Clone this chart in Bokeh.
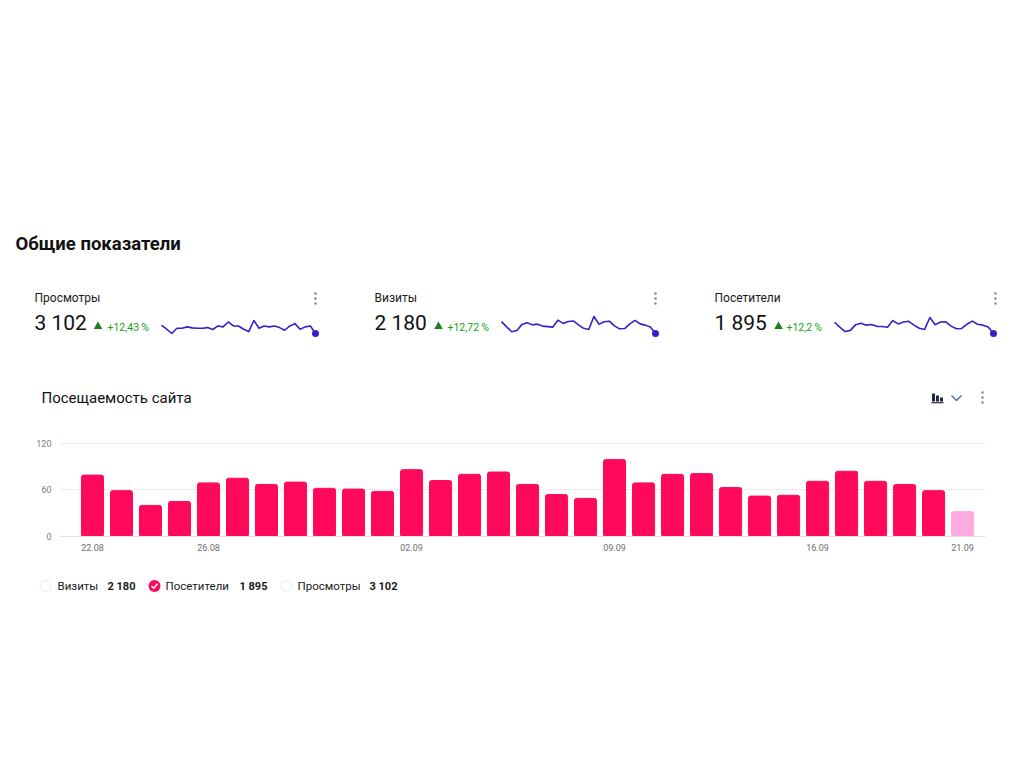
from bokeh.plotting import figure
from bokeh.layouts import column
from bokeh.models import Range1d, FixedTicker, ColumnDataSource
from bokeh.core.properties import value
from bokeh.embed import file_html
from bokeh.resources import INLINE

# ---- data -------------------------------------------------------------
dates = ["22.08", "23.08", "24.08", "25.08", "26.08", "27.08", "28.08", "29.08",
         "30.08", "31.08", "01.09", "02.09", "03.09", "04.09", "05.09", "06.09",
         "07.09", "08.09", "09.09", "10.09", "11.09", "12.09", "13.09", "14.09",
         "15.09", "16.09", "17.09", "18.09", "19.09", "20.09", "21.09"]

visitors = [79, 59, 40, 45, 69, 75, 67, 70, 62, 61, 58, 86, 72, 80, 83, 67,
            54, 49, 99, 69, 80, 81, 63, 52, 53, 71, 84, 71, 67, 59, 32]

visits = [84, 63, 43, 48, 73, 80, 71, 74, 66, 64, 62, 90, 77, 85, 87, 71,
          57, 52, 105, 73, 84, 86, 67, 55, 56, 75, 89, 75, 70, 62, 36]

views = [115, 88, 59, 95, 95, 104, 97, 95, 95, 99, 86, 110, 104, 137, 110, 110,
         88, 72, 147, 95, 110, 104, 110, 99, 81, 110, 126, 88, 104, 110, 59]

metric_names = ["Просмотры", "Визиты", "Посетители"]
metric_totals = [3102, 2180, 1895]
metric_change = [12.43, 12.72, 12.2]

tick_days = ["22.08", "26.08", "02.09", "09.09", "16.09", "21.09"]
y_ticks = [0, 60, 120]

legend_names = ["Визиты", "Посетители", "Просмотры"]
legend_totals = [2180, 1895, 3102]

# ---- styling ----------------------------------------------------------
FONT = "Roboto"
W = 1024
TOP_H, CH_H = 420, 140
LEG_H = 768 - TOP_H - CH_H
BAR_COLOR = "#ff0a5a"
BAR_TODAY = "#fcaae0"
SPARK = "#3a1fc9"
GREEN = "#14a014"
TEXT = "#1a1a1a"


def fmt_int(n):
    return f"{n:,}".replace(",", " ")


def fmt_pct(c):
    return "+" + f"{c:g}".replace(".", ",") + "\u2009%"


def put_text(fig, x, y, s, size, color=TEXT, style="normal", align="left"):
    fig.text(x=[x], y=[y], text=[s], text_font=value(FONT),
             text_font_size=f"{size}px", text_font_style=style,
             text_color=color, text_align=align, text_baseline="middle")


def blank(height):
    f = figure(width=W, height=height, x_range=Range1d(0, W),
               y_range=Range1d(height, 0), output_backend="svg",
               toolbar_location=None, min_border=0, outline_line_color=None,
               x_axis_location=None, y_axis_location=None, frame_align=False)
    f.grid.visible = False
    return f


def menu_dots(fig, x, y):
    fig.scatter(x=[x, x, x], y=[y - 5, y, y + 5], size=2.6,
                fill_color="#8a8a8a", line_color=None)


# ---- header with metric cards ----------------------------------------
top = blank(TOP_H)
put_text(top, 15, 243, "Общие показатели", 18.5, style="bold", color="#111111")

card_x = [34, 374, 714]
tri_x = [97.5, 438, 778]
pct_x = [107, 447, 786]
spark_left = [161, 501, 834]
spark_right = [315, 655, 993]
spark_top = [320, 316, 317]
spark_bottom = 333
menu_x = [315, 655, 995]
series_by_card = [views, visits, visitors]

for k in range(3):
    cx = card_x[k]
    put_text(top, cx, 297, metric_names[k], 12)
    put_text(top, cx, 322.5, fmt_int(metric_totals[k]), 21, color="#111111")
    top.scatter(x=[tri_x[k]], y=[326], marker="triangle", size=8.5,
                fill_color="#17801a", line_color=None)
    put_text(top, pct_x[k], 326.5, fmt_pct(metric_change[k]), 10.5, color=GREEN)
    menu_dots(top, menu_x[k], 298)

    s = series_by_card[k]
    n = len(s)
    ux = (n - 1) / (spark_right[k] - spark_left[k])
    lo, hi = min(s), max(s)
    uy = (hi - lo) / (spark_bottom - spark_top[k])
    top.extra_x_ranges[f"sx{k}"] = Range1d(-spark_left[k] * ux,
                                           (n - 1) + (W - spark_right[k]) * ux)
    top.extra_y_ranges[f"sy{k}"] = Range1d(lo - (TOP_H - spark_bottom) * uy,
                                           hi + spark_top[k] * uy)
    top.line(x=list(range(n)), y=s, x_range_name=f"sx{k}",
             y_range_name=f"sy{k}", line_color=SPARK, line_width=1.6,
             line_join="round")
    top.scatter(x=[n - 1], y=[s[-1]], x_range_name=f"sx{k}",
                y_range_name=f"sy{k}", size=7, fill_color=SPARK,
                line_color=None)

# chart card title and its controls
put_text(top, 41, 397, "Посещаемость сайта", 15, color="#111111")
top.quad(left=[931.5, 935.5, 939.5], right=[934.5, 938.5, 942.5],
         top=[393, 395, 397], bottom=[401, 401, 401], fill_color="#232838",
         line_color=None)
top.quad(left=[931], right=[943], top=[401.6], bottom=[402.8],
         fill_color="#232838", line_color=None)
top.line(x=[951, 956, 961], y=[395, 400, 395], line_color="#4a6494",
         line_width=1.3)
menu_dots(top, 982, 397)

# ---- bar chart ---------------------------------------------------------
idx = list(range(len(dates)))
colors = [BAR_COLOR] * (len(dates) - 1) + [BAR_TODAY]
src = ColumnDataSource(dict(x=idx, top=visitors, color=colors))

bars = figure(width=W, height=CH_H, x_range=Range1d(-1.103, 30.79),
              y_range=Range1d(0, 130), output_backend="svg",
              toolbar_location=None, min_border_left=60, min_border_right=39,
              min_border_top=15, min_border_bottom=24, outline_line_color=None,
              frame_align=False)
bars.vbar(x="x", top="top", width=0.76, source=src, fill_color="color",
          line_color="color", border_radius=2)

bars.xgrid.visible = False
bars.ygrid.ticker = FixedTicker(ticks=y_ticks[1:])
bars.ygrid.grid_line_color = "#ececec"

xa = bars.xaxis[0]
xa.ticker = FixedTicker(ticks=[dates.index(d) for d in tick_days])
xa.major_label_overrides = {dates.index(d): d for d in tick_days}
xa.axis_line_color = "#e2e2e2"
xa.major_tick_out = 0
xa.major_tick_in = 0
xa.minor_tick_line_color = None
xa.major_label_standoff = 7
xa.major_label_text_font = FONT
xa.major_label_text_font_size = "9px"
xa.major_label_text_color = "#6e6e6e"

ya = bars.yaxis[0]
ya.ticker = FixedTicker(ticks=y_ticks)
ya.axis_line_color = None
ya.major_tick_line_color = None
ya.minor_tick_line_color = None
ya.major_tick_out = 0
ya.major_tick_in = 0
ya.major_label_standoff = 9
ya.major_label_text_font = FONT
ya.major_label_text_font_size = "9px"
ya.major_label_text_color = "#7a7a7a"

# ---- legend row ----------------------------------------------------------
leg = blank(LEG_H)
ly = 25.5
mark_x = [45, 154, 286]
name_x = [57, 165, 297]
total_x = [107, 239, 369]
for k in range(3):
    if legend_names[k] == "Посетители":
        leg.scatter(x=[mark_x[k]], y=[ly], size=12, fill_color=BAR_COLOR,
                    line_color=None)
        leg.line(x=[mark_x[k] - 3, mark_x[k] - 0.8, mark_x[k] + 3],
                 y=[ly, ly + 2.2, ly - 2.2], line_color="white", line_width=1.4)
    else:
        leg.scatter(x=[mark_x[k]], y=[ly], size=11, fill_color="white",
                    line_color="#ececec")
    put_text(leg, name_x[k], ly, legend_names[k], 11.5)
    put_text(leg, total_x[k], ly, fmt_int(legend_totals[k]), 11,
             style="bold")

page = column(top, bars, leg, spacing=0)
open("out.html", "w").write(file_html(page, INLINE))
